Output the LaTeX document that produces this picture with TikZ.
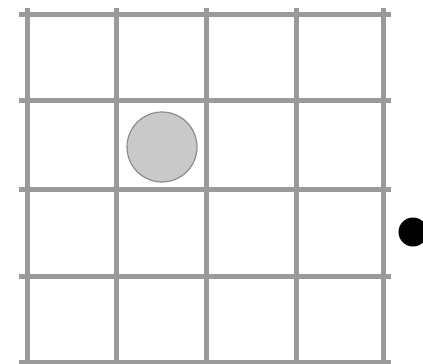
\documentclass[tikz,border=0pt]{standalone}
\usepackage{xcolor}
\usepackage{tikz}
\definecolor{GridGray}{HTML}{9A9A9A}
\definecolor{StoneFill}{HTML}{C9C9C9}
\definecolor{StoneEdge}{HTML}{8C8C8C}

\begin{document}
\begin{tikzpicture}[
  x=1pt, y=-1pt,
  gridline/.style={draw=GridGray,line width=5pt},
  stone/.style={circle,draw=StoneEdge,fill=StoneFill,line width=1.2pt,minimum size=70pt,inner sep=0pt},
  marker/.style={circle,fill=black,minimum size=29pt,inner sep=0pt}
]
  \useasboundingbox (0,0) rectangle (423,364);
  \clip (0,0) rectangle (423,364);
  % board lines
  \foreach \x in {27,116,206,296,383}
    \draw[gridline] (\x,8) -- (\x,366);
  \foreach \y in {14,100,189,276,362}
    \draw[gridline] (19,\y) -- (391,\y);
  % grey stone and black dot
  \node[stone] (piece) at (162,147) {};
  \node[marker] (dot) at (413,232) {};
\end{tikzpicture}
\end{document}
